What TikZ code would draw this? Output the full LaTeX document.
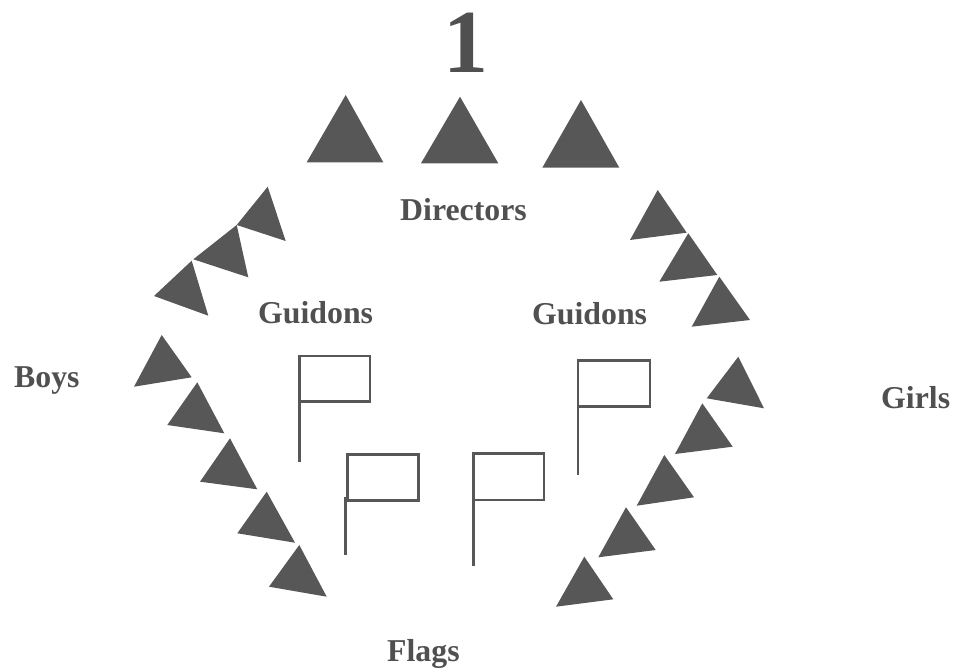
\documentclass[tikz,border=0pt]{standalone}
\usepackage{fontspec}
\setmainfont{Liberation Serif}
\definecolor{ink}{HTML}{575757}
\definecolor{txt}{HTML}{505050}
\begin{document}
\begin{tikzpicture}[x=1pt,y=-1pt,
  tri/.style={fill=ink},
  flagline/.style={draw=ink,line width=2.6pt},
  lbl/.style={anchor=base west,inner sep=0pt,text=txt,font=\bfseries\fontsize{31.8}{32}\selectfont}]
\useasboundingbox (0,0) rectangle (956,669);
% title
\node[anchor=base,inner sep=0pt,text=txt,font=\bfseries\fontsize{90}{90}\selectfont] (num) at (466,73) {1};
% top directors triangles
\fill[tri] (345.7,95) -- (306.7,162.3) -- (383.3,162.3) -- cycle;
\fill[tri] (460,96.7) -- (421,163.3) -- (498.3,163.3) -- cycle;
\fill[tri] (581,100) -- (542.3,167.7) -- (619.3,167.7) -- cycle;
% left upper
\fill[tri] (267.7,186.7) -- (236.7,225) -- (285.7,241) -- cycle;
\fill[tri] (236.7,225) -- (193.3,259.3) -- (248.3,277.3) -- cycle;
\fill[tri] (191.7,260.7) -- (154,296) -- (208.3,315.7) -- cycle;
% left lower (boys)
\fill[tri] (161.7,335) -- (134,386.7) -- (191.7,377.3) -- cycle;
\fill[tri] (197.3,382.3) -- (167.3,425) -- (224.3,433.3) -- cycle;
\fill[tri] (230,438.3) -- (200,481.7) -- (257.3,489.3) -- cycle;
\fill[tri] (266.7,491.7) -- (237.3,533.3) -- (295,542.7) -- cycle;
\fill[tri] (299.3,545) -- (269,586.7) -- (326.7,596.7) -- cycle;
% right upper
\fill[tri] (657.7,190) -- (630,240) -- (686.7,232.7) -- cycle;
\fill[tri] (688.3,233.3) -- (659.3,281.7) -- (717.3,275) -- cycle;
\fill[tri] (719.3,276.7) -- (691.7,326.7) -- (750,320) -- cycle;
% right lower (girls)
\fill[tri] (738.3,356.7) -- (706.7,398.3) -- (764,408.3) -- cycle;
\fill[tri] (702.3,403.3) -- (675,454) -- (732.7,446.7) -- cycle;
\fill[tri] (664.3,455) -- (636.7,505.7) -- (694,497.3) -- cycle;
\fill[tri] (626,507.3) -- (598.3,557.3) -- (655.7,550) -- cycle;
\fill[tri] (584.3,556.7) -- (556,606.7) -- (613.3,599.3) -- cycle;
% flags
\draw[flagline] (299.3,461.7) -- (299.3,356) -- (370,356) -- (370,401.7) -- (299.3,401.7);
\draw[flagline] (347.7,454.3) rectangle (418.3,500.7);
\draw[flagline] (345.5,497) -- (345.5,555);
\draw[flagline] (473.3,566) -- (473.3,453.3) -- (544,453.3) -- (544,500) -- (473.3,500);
\draw[flagline] (578,475) -- (578,360.7) -- (650,360.7) -- (650,406.7) -- (578,406.7);
% labels
\node[lbl] (directors) at (400,220) {Directors};
\node[lbl] (guidonsL) at (258,323.3) {Guidons};
\node[lbl] (guidonsR) at (532,324.3) {Guidons};
\node[lbl] (boys) at (14,387.3) {Boys};
\node[lbl] (girls) at (881,408.3) {Girls};
\node[lbl] (flags) at (387,661) {Flags};
\end{tikzpicture}
\end{document}
